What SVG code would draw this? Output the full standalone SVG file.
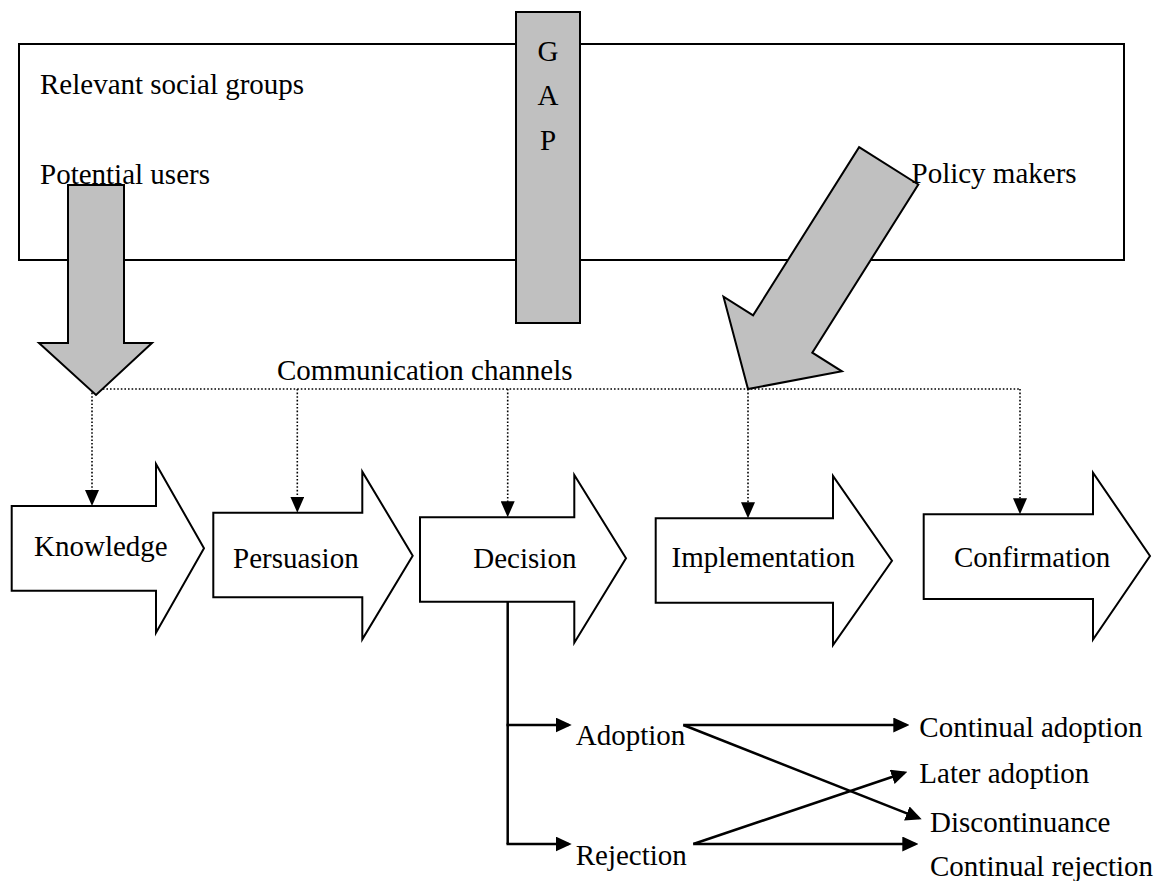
<svg xmlns="http://www.w3.org/2000/svg" width="1161" height="881" viewBox="0 0 1161 881">
  <style>
    text { font-family: "Liberation Serif", "Times New Roman", serif; font-size: 29px; fill: #000; }
    .box { fill: #fff; stroke: #000; stroke-width: 2; }
    .gray { fill: #c0c0c0; stroke: #000; stroke-width: 2; stroke-linejoin: miter; }
    .stage { fill: #fff; stroke: #000; stroke-width: 2; stroke-linejoin: miter; }
    .dot { fill: none; stroke: #000; stroke-width: 1.6; stroke-dasharray: 1.6 2; }
    .solid { fill: none; stroke: #000; stroke-width: 2.5; }
  </style>
  <defs>
    <marker id="dotHead" markerUnits="userSpaceOnUse" markerWidth="16" markerHeight="14" viewBox="0 0 16 14" refX="13" refY="7" orient="auto">
      <path d="M0,0 L16,7 L0,14 Z" fill="#000" stroke="none"/>
    </marker>
    <marker id="solidHead" markerUnits="userSpaceOnUse" markerWidth="16" markerHeight="15" viewBox="0 0 16 15" refX="13" refY="7.5" orient="auto">
      <path d="M0,0 L16,7.5 L0,15 Z" fill="#000" stroke="none"/>
    </marker>
  </defs>

  <g id="social-groups">
    <rect class="box" x="19" y="44" width="1105" height="216"/>
    <text x="40" y="94">Relevant social groups</text>
    <text x="40" y="184">Potential users</text>
  </g>

  <g id="gap">
    <rect class="gray" x="516" y="12" width="64" height="311"/>
    <text x="548" y="61" text-anchor="middle" font-size="30">G</text>
    <text x="548" y="105" text-anchor="middle" font-size="30">A</text>
    <text x="548" y="150" text-anchor="middle" font-size="30">P</text>
  </g>

  <g id="channels">
    <text x="277" y="380" font-size="32">Communication channels</text>
  </g>

  <g id="connectors">
    <line class="dot" x1="92" y1="389" x2="1020" y2="389"/>
    <line class="dot" x1="92" y1="389" x2="92" y2="503" marker-end="url(#dotHead)"/>
    <line class="dot" x1="297.3" y1="389" x2="297.3" y2="509.7" marker-end="url(#dotHead)"/>
    <line class="dot" x1="507.7" y1="389" x2="507.7" y2="514.3" marker-end="url(#dotHead)"/>
    <line class="dot" x1="748" y1="389" x2="748" y2="515.3" marker-end="url(#dotHead)"/>
    <line class="dot" x1="1020" y1="389" x2="1020" y2="511.3" marker-end="url(#dotHead)"/>

    <polyline class="solid" points="507.7,601.7 507.7,844"/>
    <line class="solid" x1="506.5" y1="725" x2="568.7" y2="725" marker-end="url(#solidHead)"/>
    <line class="solid" x1="506.5" y1="844" x2="568.7" y2="844" marker-end="url(#solidHead)"/>

    <line class="solid" x1="683.3" y1="725" x2="906.3" y2="725" marker-end="url(#solidHead)"/>
    <line class="solid" x1="683.3" y1="725" x2="918.9" y2="818.2" marker-end="url(#solidHead)"/>
    <line class="solid" x1="693.3" y1="844" x2="904.5" y2="772.7" marker-end="url(#solidHead)"/>
    <line class="solid" x1="693.3" y1="844" x2="915.3" y2="844" marker-end="url(#solidHead)"/>
  </g>

  <g id="users-arrow">
    <polygon class="gray" points="68,185 124,185 124,343 152,343 96,395 39,343 68,343"/>
  </g>

  <g id="policy-arrow">
    <polygon class="gray" points="859.1,147.1 918.3,184.5 812.3,352.7 841.9,371.3 748,389 723.5,296.7 753.1,315.3"/>
    <text x="911.5" y="183">Policy makers</text>
  </g>

  <g id="knowledge">
    <polygon class="stage" points="11.7,506 156,506 156,464 204,548.3 156,632.7 156,590.7 11.7,590.7"/>
    <text x="34" y="556">Knowledge</text>
  </g>

  <g id="persuasion">
    <polygon class="stage" points="213.3,512.7 362.3,512.7 362.3,471.7 412.7,555.7 362.3,639.3 362.3,597.3 213.3,597.3"/>
    <text x="233" y="567.7">Persuasion</text>
  </g>

  <g id="decision">
    <polygon class="stage" points="420,517.3 574.3,517.3 574.3,475 626,558.3 574.3,642.7 574.3,601.7 420,601.7"/>
    <text x="473.3" y="567.7">Decision</text>
  </g>

  <g id="implementation">
    <polygon class="stage" points="655.7,518.3 833,518.3 833,476 892,560.7 833,645 833,602.7 655.7,602.7"/>
    <text x="671.5" y="567">Implementation</text>
  </g>

  <g id="confirmation">
    <polygon class="stage" points="923.7,514.3 1093,514.3 1093,472.7 1150,556 1093,639.5 1093,599 923.7,599"/>
    <text x="954" y="567">Confirmation</text>
  </g>

  <g id="adoption">
    <text x="575.7" y="745">Adoption</text>
  </g>
  <g id="rejection">
    <text x="575.7" y="865">Rejection</text>
  </g>
  <g id="continual-adoption">
    <text x="919.3" y="736.7">Continual adoption</text>
  </g>
  <g id="later-adoption">
    <text x="919.3" y="783.3">Later adoption</text>
  </g>
  <g id="discontinuance">
    <text x="930" y="831.7">Discontinuance</text>
  </g>
  <g id="continual-rejection">
    <text x="930" y="876">Continual rejection</text>
  </g>
</svg>
